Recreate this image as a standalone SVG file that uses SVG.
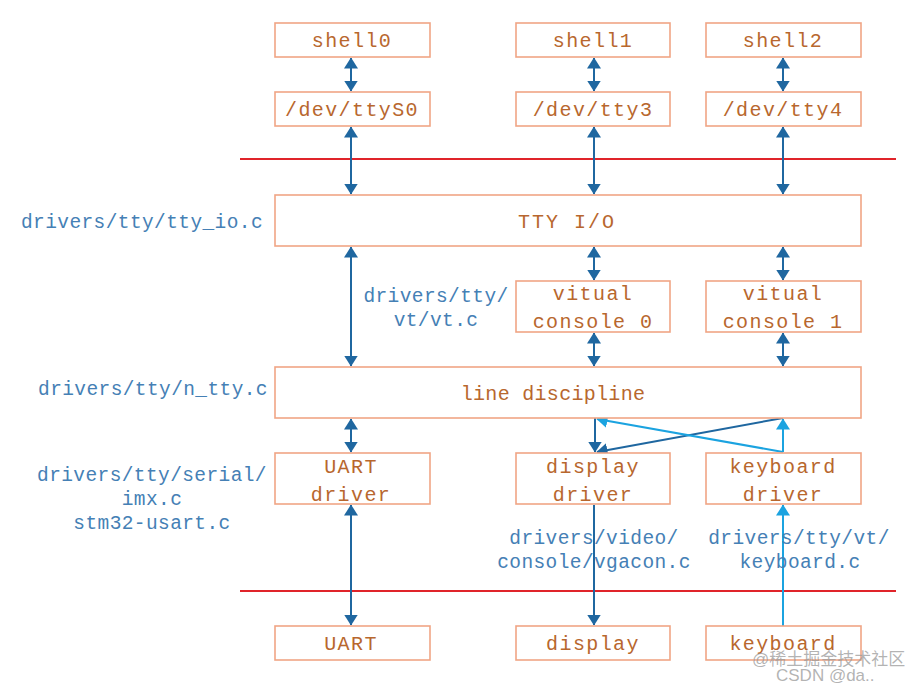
<svg xmlns="http://www.w3.org/2000/svg" width="922" height="688" viewBox="0 0 922 688">
<defs>
<marker id="ad" viewBox="0 0 11 14" refX="10.5" refY="7" markerWidth="11" markerHeight="14" markerUnits="userSpaceOnUse" orient="auto-start-reverse"><path d="M0,0 L11,7 L0,14 Z" fill="#1f67a0"/></marker>
<marker id="al" viewBox="0 0 11 14" refX="10.5" refY="7" markerWidth="11" markerHeight="14" markerUnits="userSpaceOnUse" orient="auto-start-reverse"><path d="M0,0 L11,7 L0,14 Z" fill="#1ba3e0"/></marker>
<style>
.b{fill:#fff;stroke:#f0a585;stroke-width:1.6}
.t{font-family:"Liberation Mono","Courier New",monospace;font-size:20px;fill:#b8672e;text-anchor:middle;letter-spacing:1.4px}
.l{font-family:"Liberation Mono","Courier New",monospace;font-size:19.5px;fill:#4580b5;text-anchor:middle;letter-spacing:0.4px}
.d{stroke:#1f67a0;stroke-width:2;fill:none}
.c{stroke:#1ba3e0;stroke-width:2;fill:none}
.r{stroke:#e0242a;stroke-width:2}
.w{font-family:"Liberation Sans","Noto Sans CJK SC",sans-serif;font-size:17px;fill:#9a9a9a;fill-opacity:0.75}
</style>
</defs>
<rect width="922" height="688" fill="#fff"/>
<line class="r" x1="240" y1="159" x2="896" y2="159"/>
<line class="r" x1="240" y1="591" x2="896" y2="591"/>
<g id="connectors">
<line class="d" x1="351" y1="58" x2="351" y2="91" marker-start="url(#ad)" marker-end="url(#ad)"/>
<line class="d" x1="594" y1="58" x2="594" y2="91" marker-start="url(#ad)" marker-end="url(#ad)"/>
<line class="d" x1="783" y1="58" x2="783" y2="91" marker-start="url(#ad)" marker-end="url(#ad)"/>
<line class="d" x1="351" y1="127" x2="351" y2="194" marker-start="url(#ad)" marker-end="url(#ad)"/>
<line class="d" x1="594" y1="127" x2="594" y2="194" marker-start="url(#ad)" marker-end="url(#ad)"/>
<line class="d" x1="783" y1="127" x2="783" y2="194" marker-start="url(#ad)" marker-end="url(#ad)"/>
<line class="d" x1="351" y1="247" x2="351" y2="366" marker-start="url(#ad)" marker-end="url(#ad)"/>
<line class="d" x1="594" y1="247" x2="594" y2="280" marker-start="url(#ad)" marker-end="url(#ad)"/>
<line class="d" x1="783" y1="247" x2="783" y2="280" marker-start="url(#ad)" marker-end="url(#ad)"/>
<line class="d" x1="594" y1="333" x2="594" y2="366" marker-start="url(#ad)" marker-end="url(#ad)"/>
<line class="d" x1="783" y1="333" x2="783" y2="366" marker-start="url(#ad)" marker-end="url(#ad)"/>
<line class="d" x1="351" y1="419" x2="351" y2="452" marker-start="url(#ad)" marker-end="url(#ad)"/>
<line class="d" x1="351" y1="505" x2="351" y2="625" marker-start="url(#ad)" marker-end="url(#ad)"/>
<line class="d" x1="595" y1="418" x2="595" y2="452" marker-end="url(#ad)"/>
<line class="d" x1="783" y1="418" x2="597" y2="452" marker-end="url(#ad)"/>
<line class="c" x1="783" y1="452" x2="597" y2="419" marker-end="url(#al)"/>
<line class="c" x1="783" y1="452" x2="783" y2="419" marker-end="url(#al)"/>
<line class="d" x1="594" y1="505" x2="594" y2="625" marker-end="url(#ad)"/>
<line class="c" x1="783" y1="626" x2="783" y2="505" marker-end="url(#al)"/>
</g>
<g id="shell0"><rect class="b" x="275" y="23" width="155" height="34"/><text class="t" x="352" y="47">shell0</text></g>
<g id="shell1"><rect class="b" x="516" y="23" width="154" height="34"/><text class="t" x="593" y="47">shell1</text></g>
<g id="shell2"><rect class="b" x="706" y="23" width="155" height="34"/><text class="t" x="783" y="47">shell2</text></g>
<g id="ttyS0"><rect class="b" x="275" y="92" width="155" height="34"/><text class="t" x="352" y="116">/dev/ttyS0</text></g>
<g id="tty3"><rect class="b" x="516" y="92" width="154" height="34"/><text class="t" x="593" y="116">/dev/tty3</text></g>
<g id="tty4"><rect class="b" x="706" y="92" width="155" height="34"/><text class="t" x="783" y="116">/dev/tty4</text></g>
<g id="ttyio"><rect class="b" x="275" y="195" width="586" height="51"/><text class="t" x="567" y="228" style="letter-spacing:2px">TTY I/O</text></g>
<g id="vc0"><rect class="b" x="516" y="281" width="154" height="51"/><text class="t" x="593" y="300">vitual</text><text class="t" x="593" y="328">console 0</text></g>
<g id="vc1"><rect class="b" x="706" y="281" width="155" height="51"/><text class="t" x="783" y="300">vitual</text><text class="t" x="783" y="328">console 1</text></g>
<g id="ldisc"><rect class="b" x="275" y="367" width="586" height="51"/><text class="t" x="553" y="400" style="letter-spacing:0.3px">line discipline</text></g>
<g id="uartdrv"><rect class="b" x="275" y="453" width="155" height="51"/><text class="t" x="351" y="473">UART</text><text class="t" x="351" y="501">driver</text></g>
<g id="dispdrv"><rect class="b" x="516" y="453" width="154" height="51"/><text class="t" x="593" y="473">display</text><text class="t" x="593" y="501">driver</text></g>
<g id="kbddrv"><rect class="b" x="706" y="453" width="155" height="51"/><text class="t" x="783" y="473">keyboard</text><text class="t" x="783" y="501">driver</text></g>
<g id="uart"><rect class="b" x="275" y="626" width="155" height="34"/><text class="t" x="351" y="650">UART</text></g>
<g id="display"><rect class="b" x="516" y="626" width="154" height="34"/><text class="t" x="593" y="650">display</text></g>
<g id="keyboard"><rect class="b" x="706" y="626" width="155" height="34"/><text class="t" x="783" y="650">keyboard</text></g>
<g id="labels">
<text class="l" x="142" y="228">drivers/tty/tty_io.c</text>
<text class="l" x="436" y="302">drivers/tty/</text>
<text class="l" x="436" y="326">vt/vt.c</text>
<text class="l" x="153" y="395">drivers/tty/n_tty.c</text>
<text class="l" x="152" y="481">drivers/tty/serial/</text>
<text class="l" x="152" y="505">imx.c</text>
<text class="l" x="152" y="529">stm32-usart.c</text>
<text class="l" x="594" y="544">drivers/video/</text>
<text class="l" x="594" y="568">console/vgacon.c</text>
<text class="l" x="799" y="544">drivers/tty/vt/</text>
<text class="l" x="800" y="568">keyboard.c</text>
</g>
<text class="w" x="752" y="665">@稀土掘金技术社区</text>
<text class="w" x="776" y="681">CSDN @da..</text>
</svg>
